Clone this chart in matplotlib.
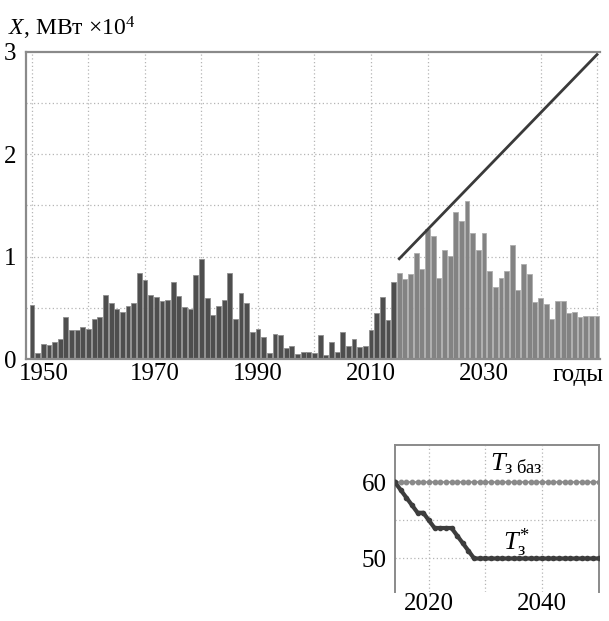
#!/usr/bin/env python
# -*- coding: utf-8 -*-
"""
Installed capacity X by year (history + forecast) and the T_z curves.
"""

import matplotlib
matplotlib.use("Agg")
import matplotlib.pyplot as plt
import matplotlib.transforms as mtransforms

# Observed values, 1950 - 2014 (x 10^4 MW)
hist_years = list(range(1950, 2015))
hist_values = [0.53, 0.06, 0.15, 0.14, 0.17, 0.20, 0.41, 0.29, 0.29, 0.31,
               0.30, 0.39, 0.41, 0.63, 0.545, 0.49, 0.46, 0.52, 0.545, 0.84,
               0.77, 0.63, 0.61, 0.57, 0.575, 0.75, 0.62, 0.51, 0.49, 0.82,
               0.98, 0.60, 0.43, 0.52, 0.575, 0.84, 0.39, 0.65, 0.55, 0.265,
               0.30, 0.22, 0.058, 0.247, 0.234, 0.107, 0.13, 0.052, 0.074, 0.074,
               0.064, 0.237, 0.042, 0.17, 0.074, 0.266, 0.13, 0.198, 0.117, 0.13,
               0.29, 0.45, 0.61, 0.386, 0.753]

# Forecast values, 2015 - 2050
fc_years = list(range(2015, 2051))
fc_values = [0.844, 0.78, 0.835, 1.036, 0.88,
             1.267, 1.20, 0.79, 1.065, 1.004, 1.436, 1.35, 1.546, 1.228, 1.068,
             1.231, 0.864, 0.708, 0.79, 0.857, 1.117, 0.675, 0.929, 0.835, 0.555,
             0.60, 0.542, 0.39, 0.565, 0.565, 0.448, 0.464, 0.41, 0.422, 0.422,
             0.422]

# Trend line
trend_years = [2015, 2050]
trend_values = [0.98, 2.97]

# Inset: T_z base and optimal T_z*
t_years = list(range(2014, 2051))
t_base = [60] * len(t_years)
t_opt = [60, 59, 58, 57, 56, 56, 55, 54, 54, 54, 54, 53, 52, 51] + [50] * 23

plt.rcParams['font.family'] = ['Liberation Serif', 'DejaVu Serif']
plt.rcParams['mathtext.fontset'] = 'custom'
plt.rcParams['mathtext.rm'] = 'Liberation Serif'
plt.rcParams['mathtext.it'] = 'Liberation Serif:italic'

W, H = 609, 621
fig = plt.figure(figsize=(W / 100, H / 100), dpi=100)


def px_axes(x0, y0, x1, y1):
    # pixel box (top-left origin) -> figure fraction
    return fig.add_axes([x0 / W, 1 - y1 / H, (x1 - x0) / W, (y1 - y0) / H])


grid_kw = dict(color='#b5b5b5', linestyle=(0, (1, 2)), linewidth=0.9)
spine_col = '#8a8a8a'

# ---- main chart ----
ax = px_axes(26, 51.5, 600, 359.3)
ax.bar(hist_years, hist_values, width=0.86, color='#4e4e4e',
       edgecolor='#8f8f8f', linewidth=0.6, zorder=2)
ax.bar(fc_years, fc_values, width=0.86, color='#838383',
       edgecolor='#adadad', linewidth=0.6, zorder=2)
ax.plot(trend_years, trend_values, color='#3a3a3a', linewidth=2.0, zorder=3)

ax.set_xlim(1948.94, 2050.53)
ax.set_ylim(0, 3)
for yr in [1950, 1960, 1970, 1980, 1990, 2000, 2010, 2020, 2040, 2050]:
    ax.axvline(yr, zorder=0, **grid_kw)
for v in [0.5, 1.0, 1.5, 2.0, 2.5]:
    ax.axhline(v, zorder=0, **grid_kw)

ax.set_xticks([1950, 1970, 1990, 2010, 2030])
ax.set_yticks([0, 1, 2, 3])
ax.tick_params(length=0, labelsize=18, pad=3)
ax.tick_params(axis='y', pad=7)
# the first two year labels sit a little to the right, clear of the "0"
for tick, dx in zip(ax.xaxis.get_major_ticks()[:2], [12, 10]):
    off = mtransforms.ScaledTranslation(dx / 100, 0, fig.dpi_scale_trans)
    tick.label1.set_transform(tick.label1.get_transform() + off)
for s in ['left', 'top', 'bottom']:
    ax.spines[s].set_color(spine_col)
    ax.spines[s].set_linewidth(1.6)
ax.spines['right'].set_visible(False)

fig.text(8 / W, 1 - 28 / H, r'$X$, МВт ×10$^4$', fontsize=17, va='center', ha='left')
fig.text(604 / W, 1 - 375 / H, 'годы', fontsize=18, va='center', ha='right')

# ---- inset ----
ax2 = px_axes(395, 445, 598.5, 592)
ax2.plot(t_years, t_base, color='#8a8a8a', linewidth=1.2, marker='o',
         markersize=3.2, zorder=3)
ax2.plot(t_years, t_opt, color='#3d3d3d', linewidth=3.0, marker='o',
         markersize=3.0, zorder=4)
ax2.set_xlim(2014, 2050)
ax2.set_ylim(45.6, 64.9)
for yr in [2020, 2030, 2040]:
    ax2.axvline(yr, zorder=0, **grid_kw)
for v in [50, 55]:
    ax2.axhline(v, zorder=0, **grid_kw)
ax2.set_xticks([2020, 2040])
ax2.set_yticks([50, 60])
ax2.tick_params(length=0, labelsize=18, pad=1)
ax2.tick_params(axis='y', pad=6)
for s in ['left', 'top', 'right']:
    ax2.spines[s].set_color(spine_col)
    ax2.spines[s].set_linewidth(1.4)
ax2.spines['bottom'].set_visible(False)

ax2.text(2035.5, 62.4, r'$T_{\mathrm{з\ баз}}$', fontsize=19, ha='center', va='center')
ax2.text(2035.5, 52.1, r'$T_{\mathrm{з}}^{*}$', fontsize=19, ha='center', va='center')

fig.savefig('out.png', dpi=100)
